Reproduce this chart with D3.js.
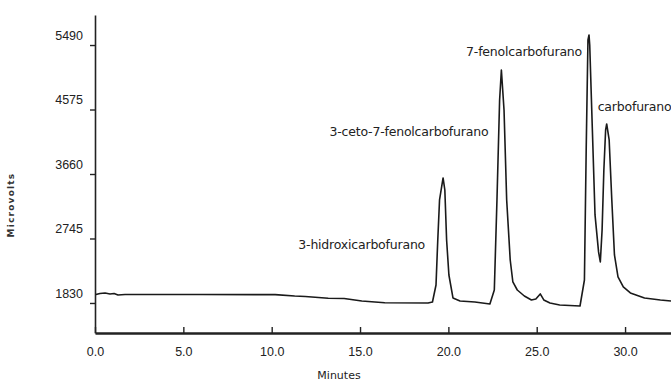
<!DOCTYPE html>
<html>
<head>
<meta charset="utf-8">
<script src="https://cdn.jsdelivr.net/npm/d3@7"></script>
<style>
  html, body { margin: 0; padding: 0; background: #fff; }
  svg { display: block; }
</style>
</head>
<body>
<svg id="chart" width="671" height="383"></svg>
<script>
// ---- data ----
const times = [0.05, 0.28, 0.57, 0.85, 1.08, 1.3, 1.7, 5.9, 10.2, 11.3, 11.9, 13.2, 14.1, 15.1, 16.4, 18.85,
  19.1, 19.3, 19.4, 19.5, 19.7, 19.8, 19.9, 20.03, 20.26, 20.66, 21.5, 22.35,
  22.6, 22.75, 22.9, 23.0, 23.15, 23.3, 23.5, 23.65, 23.9, 24.3, 24.7, 24.95, 25.2, 25.4, 25.75, 26.3, 27.45,
  27.7, 27.8, 27.9, 27.96, 28.0, 28.15, 28.3, 28.5, 28.6, 28.7, 28.8, 28.9, 28.96, 29.1, 29.25, 29.4, 29.6, 29.9,
  30.3, 31.1, 32.0, 32.6];
const microvolts = [1951, 1965, 1972, 1958, 1965, 1944, 1951, 1951, 1948, 1929, 1922, 1897, 1894, 1858, 1834, 1830,
  1844, 2085, 2724, 3292, 3604, 3433, 2724, 2227, 1901, 1858, 1844, 1816,
  2014, 3292, 4711, 5136, 4569, 3292, 2440, 2128, 2014, 1929, 1873, 1887, 1958, 1873, 1830, 1802, 1787,
  2156, 4001, 5562, 5633, 5491, 4285, 3079, 2554, 2412, 2866, 3717, 4285, 4370, 4143, 3292, 2511, 2199, 2057,
  1972, 1901, 1873, 1858];

const peakNames = ["3-hidroxicarbofurano", "3-ceto-7-fenolcarbofurano", "7-fenolcarbofurano", "carbofurano"];
const peakTimes = [19.7, 23.0, 27.96, 28.96];
const peakValues = [3604, 5136, 5633, 4370];

const yTicks = [1830, 2745, 3660, 4575, 5490];
const xTicks = [0, 5, 10, 15, 20, 25, 30];
const xTitle = "Minutes";
const yTitle = "Microvolts";

// ---- layout ----
const svg = d3.select("#chart");
const x = d3.scaleLinear().domain([0, 32.6]).range([95, 671]);
const y = d3.scaleLinear().domain([1404, 5916]).range([333, 15]);

// y axis
const yAxis = svg.append("g").attr("transform", "translate(95,0)")
  .call(d3.axisLeft(y).tickValues(yTicks).tickSize(5).tickSizeOuter(0).tickFormat(d3.format("d")));
yAxis.select(".domain").attr("stroke", "#222").attr("stroke-width", 1.6);
yAxis.selectAll(".tick line").attr("stroke", "#222").attr("stroke-width", 1.4);
yAxis.selectAll(".tick text")
  .attr("x", -12).attr("dy", "-0.45em")
  .attr("font-family", "'Liberation Sans', Arial, sans-serif")
  .attr("font-size", 12.5).attr("fill", "#222");

// x axis (ticks pointing up)
const xAxis = svg.append("g").attr("transform", "translate(0,333)")
  .call(d3.axisBottom(x).tickValues(xTicks).tickSize(-6).tickSizeOuter(0).tickFormat(d3.format(".1f")));
xAxis.select(".domain").attr("stroke", "#222").attr("stroke-width", 2.4);
xAxis.selectAll(".tick line").attr("stroke", "#222").attr("stroke-width", 1.4);
xAxis.selectAll(".tick text")
  .attr("y", 14).attr("dy", "0.71em")
  .attr("font-family", "'Liberation Sans', Arial, sans-serif")
  .attr("font-size", 12.5).attr("fill", "#222");

// axis titles
svg.append("text").attr("x", 339).attr("y", 379).attr("text-anchor", "middle")
  .attr("font-family", "'DejaVu Sans', sans-serif").attr("font-size", 11).attr("fill", "#222")
  .text(xTitle);
svg.append("text").attr("transform", "translate(14,205) rotate(-90)").attr("text-anchor", "middle")
  .attr("font-family", "'DejaVu Sans', sans-serif").attr("font-weight", "bold")
  .attr("font-size", 9).attr("letter-spacing", 1.2).attr("fill", "#333")
  .text(yTitle);

// trace
const pts = times.map((t, i) => [t, microvolts[i]]);
svg.append("path").datum(pts)
  .attr("fill", "none").attr("stroke", "#1a1a1a").attr("stroke-width", 1.6)
  .attr("stroke-linejoin", "round")
  .attr("d", d3.line().x(d => x(d[0])).y(d => y(d[1])));

// peak labels, placed relative to their peaks
const labelFont = "'DejaVu Sans', sans-serif";
const offsets = [ // [dx, dy, anchor]
  [-18, 67, "end"],
  [-13, 62, "end"],
  [-7, 17, "end"],
  [-9, -17, "start"]
];
svg.append("g").selectAll("text").data(peakNames).join("text")
  .attr("x", (d, i) => x(peakTimes[i]) + offsets[i][0])
  .attr("y", (d, i) => y(peakValues[i]) + offsets[i][1])
  .attr("dy", "0.35em")
  .attr("text-anchor", (d, i) => offsets[i][2])
  .attr("font-family", labelFont).attr("font-size", 12.5).attr("fill", "#222")
  .attr("letter-spacing", -0.2)
  .text(d => d);
</script>
</body>
</html>
